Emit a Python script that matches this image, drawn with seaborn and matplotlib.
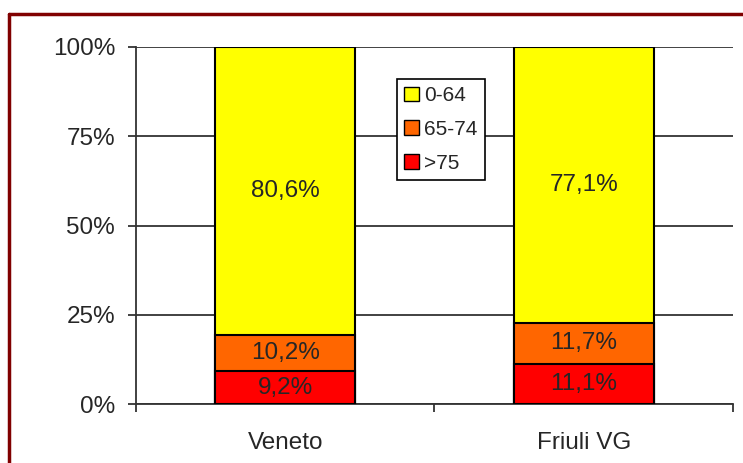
import numpy as np
import pandas as pd
import seaborn as sns
import matplotlib.pyplot as plt
from matplotlib.patches import Patch
from matplotlib.lines import Line2D

# Data
regions = ['Veneto', 'Friuli VG']
age_groups = ['0-64', '65-74', '>75']
share_0_64 = [80.6, 77.1]
share_65_74 = [10.2, 11.7]
share_75 = [9.2, 11.1]
colors = ['#FFFF00', '#FF6600', '#FF0000']

df = pd.DataFrame({'Regione': regions, '0-64': share_0_64,
                   '65-74': share_65_74, '>75': share_75})
tot = df[age_groups].sum(axis=1)
for g in age_groups:
    df[g + '_pct'] = df[g] / tot * 100

sns.set_style('white')
plt.rcParams['font.family'] = ['Liberation Sans', 'DejaVu Sans']

fig = plt.figure(figsize=(7.43, 4.63), dpi=100)
ax = fig.add_axes([0.183, 0.1274, 0.8035, 0.7711])

# stacked bars: draw cumulative heights, largest first
df['cum3'] = df['>75_pct'] + df['65-74_pct'] + df['0-64_pct']
df['cum2'] = df['>75_pct'] + df['65-74_pct']
df['cum1'] = df['>75_pct']
for col, c in zip(['cum3', 'cum2', 'cum1'], colors):
    sns.barplot(data=df, x='Regione', y=col, color=c, width=0.47,
                edgecolor='black', linewidth=1.5, saturation=1, ax=ax, zorder=3)

# segment labels
for i, row in df.iterrows():
    bottoms = [row['cum2'], row['cum1'], 0]
    for g, b in zip(age_groups, bottoms):
        h = row[g + '_pct']
        txt = f"{row[g]:.1f}".replace('.', ',') + '%'
        ax.text(i, b + h / 2, txt, ha='center', va='center', fontsize=17.5, zorder=4)

ax.set_xlim(-0.5, 1.5)
ax.set_ylim(0, 100)
ax.set_yticks([0, 25, 50, 75, 100])
ax.set_yticklabels(['0%', '25%', '50%', '75%', '100%'])
ax.yaxis.grid(True, color='#333333', linewidth=1.3, zorder=0)
ax.set_axisbelow(True)

ax.set_xticks([-0.5, 0.5, 1.5])
ax.set_xticklabels(['', '', ''])
ax.set_xticks([0, 1], minor=True)
ax.set_xticklabels(regions, minor=True)
ax.tick_params(axis='x', which='major', direction='out', length=6, width=1.3,
               color='#333333', bottom=True)
ax.tick_params(axis='x', which='minor', length=0, pad=20, labelsize=17.5)
ax.tick_params(axis='y', direction='out', length=6, width=1.3, color='#333333',
               left=True, pad=9, labelsize=17.5)
ax.set_xlabel('')
ax.set_ylabel('')

for s in ['top', 'right']:
    ax.spines[s].set_visible(False)
for s in ['left', 'bottom']:
    ax.spines[s].set_color('#333333')
    ax.spines[s].set_linewidth(1.3)

handles = [Patch(facecolor=c, edgecolor='black', linewidth=1) for c in colors]
leg = ax.legend(handles, age_groups, loc='upper left', bbox_to_anchor=(0.437, 0.91),
                borderaxespad=0, fontsize=15, frameon=True, fancybox=False,
                framealpha=1, edgecolor='black', handlelength=0.7, handleheight=0.7,
                handletextpad=0.25, labelspacing=0.7, borderpad=0.35)
leg.get_frame().set_linewidth(1.2)
leg.set_zorder(5)

# maroon outer border (runs off the right and bottom edges)
fig.add_artist(Line2D([9 / 743, 1.01], [1 - 14 / 463, 1 - 14 / 463],
                      color='#800000', linewidth=2.5, transform=fig.transFigure))
fig.add_artist(Line2D([9 / 743, 9 / 743], [1 - 14 / 463, -0.01],
                      color='#800000', linewidth=2.5, transform=fig.transFigure))

plt.savefig('out.png', dpi=100)
plt.close()
